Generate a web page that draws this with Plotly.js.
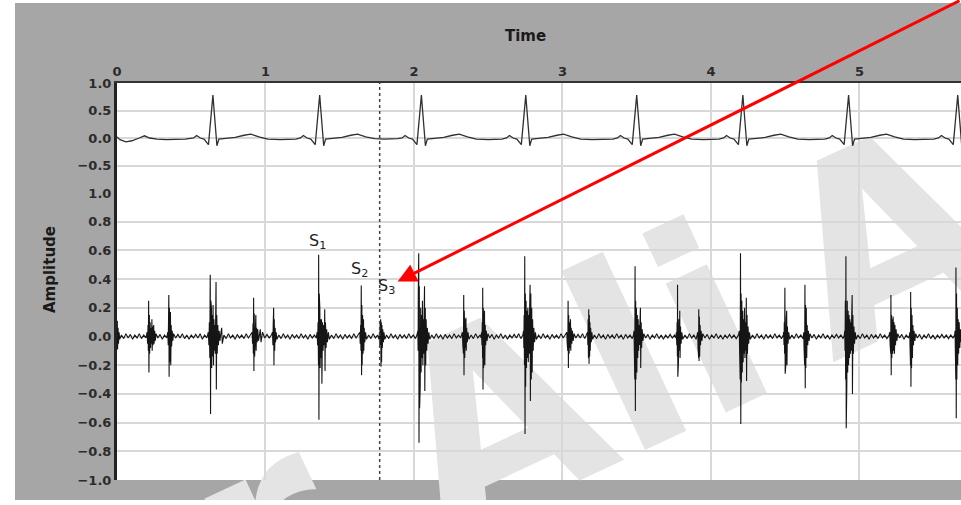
<!DOCTYPE html>
<html>
<head>
<meta charset="utf-8">
<script src="https://cdn.plot.ly/plotly-3.0.1.min.js"></script>
<style>html,body{margin:0;padding:0;background:#fff;}#chart{width:961px;height:505px;}</style>
</head>
<body>
<div id="chart"></div>
<script>
// ---------- DATA ----------
const xTicks = [0, 1, 2, 3, 4, 5];
const topYTicks = [1.0, 0.5, 0.0, -0.5];
const bottomYTicks = [1.0, 0.8, 0.6, 0.4, 0.2, 0.0, -0.2, -0.4, -0.6, -0.8, -1.0];

// ECG (top panel): [time s, amplitude]
const ecgSamples = [
[0.000,0.02],[0.02,-0.03],[0.06,-0.07],[0.10,-0.05],[0.15,0.0],[0.185,0.04],[0.22,0.0],[0.27,-0.02],[0.33,-0.03],[0.40,-0.03],[0.46,-0.02],
[0.516,0.0],[0.536,0.045],[0.561,0.0],[0.586,-0.02],[0.616,-0.12],[0.638,0.5],[0.646,0.78],[0.654,0.5],[0.666,-0.05],[0.673,-0.14],[0.686,-0.02],[0.726,-0.01],[0.796,0.01],[0.856,0.05],[0.901,0.07],[0.956,0.02],[1.016,-0.02],[1.10,-0.03],[1.18,-0.02],
[1.205,-0.02],[1.235,0.0],[1.255,0.045],[1.28,0.0],[1.305,-0.02],[1.335,-0.12],[1.357,0.5],[1.365,0.78],[1.373,0.5],[1.385,-0.05],[1.392,-0.14],[1.405,-0.02],[1.445,-0.01],[1.515,0.01],[1.575,0.05],[1.62,0.07],[1.675,0.02],[1.735,-0.01],[1.80,-0.02],[1.86,-0.02],
[1.89,-0.01],[1.92,0.0],[1.94,0.045],[1.965,0.0],[1.99,-0.02],[2.02,-0.12],[2.042,0.5],[2.05,0.78],[2.058,0.5],[2.07,-0.05],[2.077,-0.14],[2.09,-0.02],[2.13,-0.01],[2.20,0.01],[2.26,0.05],[2.305,0.07],[2.36,0.02],[2.42,-0.02],[2.50,-0.03],[2.57,-0.02],
[2.593,-0.02],[2.623,0.0],[2.643,0.045],[2.668,0.0],[2.693,-0.02],[2.723,-0.12],[2.745,0.5],[2.753,0.78],[2.761,0.5],[2.773,-0.05],[2.78,-0.14],[2.793,-0.02],[2.833,-0.01],[2.903,0.01],[2.963,0.05],[3.008,0.07],[3.063,0.02],[3.123,-0.02],[3.20,-0.03],[3.29,-0.02],
[3.34,-0.02],[3.37,0.0],[3.39,0.045],[3.415,0.0],[3.44,-0.02],[3.47,-0.12],[3.492,0.5],[3.50,0.78],[3.508,0.5],[3.52,-0.05],[3.527,-0.14],[3.54,-0.02],[3.58,-0.01],[3.65,0.01],[3.71,0.05],[3.755,0.07],[3.81,0.02],[3.87,-0.02],[3.95,-0.03],[4.01,-0.02],
[4.055,-0.02],[4.085,0.0],[4.105,0.045],[4.13,0.0],[4.155,-0.02],[4.185,-0.12],[4.207,0.5],[4.215,0.78],[4.223,0.5],[4.235,-0.05],[4.242,-0.14],[4.255,-0.02],[4.295,-0.01],[4.365,0.01],[4.425,0.05],[4.47,0.07],[4.525,0.02],[4.585,-0.02],[4.66,-0.03],[4.73,-0.02],
[4.767,-0.02],[4.797,0.0],[4.817,0.045],[4.842,0.0],[4.867,-0.02],[4.897,-0.12],[4.919,0.5],[4.927,0.78],[4.935,0.5],[4.947,-0.05],[4.954,-0.14],[4.967,-0.02],[5.007,-0.01],[5.077,0.01],[5.137,0.05],[5.182,0.07],[5.237,0.02],[5.297,-0.02],[5.37,-0.03],[5.45,-0.02],
[5.502,-0.02],[5.532,0.0],[5.552,0.045],[5.577,0.0],[5.602,-0.02],[5.632,-0.12],[5.654,0.5],[5.662,0.78],[5.67,0.5],[5.682,-0.05],[5.689,-0.14],[5.70,-0.02]
];

// Heart sound / PCG (bottom panel): [time s, amplitude]
const pcgSamples = [
[0.000,0.02],[0.002,0.11],[0.004,-0.09],[0.007,0.06],[0.010,-0.05],[0.014,0.03],[0.018,-0.02],
[0.03,0.01],[0.045,-0.015],[0.06,0.02],[0.075,-0.01],[0.09,0.015],[0.105,-0.02],[0.12,0.01],[0.135,-0.01],[0.15,0.02],[0.165,-0.015],[0.18,0.01],[0.195,-0.01],
[0.203,0.03],[0.206,-0.05],[0.209,0.08],[0.211,-0.1],[0.213,0.25],[0.215,-0.25],[0.218,0.15],[0.220,-0.12],[0.223,0.1],[0.226,-0.08],[0.229,0.06],[0.232,-0.05],[0.235,0.12],[0.237,-0.1],[0.240,0.07],[0.243,-0.06],[0.247,0.08],[0.250,-0.05],[0.254,0.04],[0.258,-0.03],[0.263,0.02],
[0.275,-0.01],[0.29,0.015],[0.305,-0.02],[0.32,0.01],[0.335,-0.01],
[0.342,0.03],[0.345,-0.06],[0.347,0.12],[0.349,0.29],[0.351,-0.28],[0.353,0.2],[0.355,-0.18],[0.358,0.1],[0.360,0.17],[0.362,-0.2],[0.365,0.08],[0.368,-0.07],[0.372,0.04],[0.376,-0.03],[0.381,0.02],
[0.395,-0.01],[0.41,0.015],[0.425,-0.01],[0.44,0.02],[0.455,-0.015],[0.47,0.01],[0.485,-0.02],[0.50,0.01],[0.515,-0.01],[0.53,0.015],[0.545,-0.01],[0.56,0.02],[0.575,-0.02],[0.59,0.01],[0.605,-0.01],
[0.615,0.03],[0.619,-0.06],[0.622,0.1],[0.625,-0.15],[0.627,0.3],[0.628,0.43],[0.630,-0.54],[0.632,0.25],[0.634,-0.3],[0.636,0.2],[0.638,-0.22],[0.641,0.15],[0.644,-0.14],[0.647,0.22],[0.650,-0.2],[0.653,0.12],[0.656,-0.1],[0.659,0.08],[0.662,-0.12],[0.665,0.2],[0.667,0.38],[0.669,-0.37],[0.672,0.15],[0.675,-0.12],[0.679,0.08],[0.683,-0.06],[0.688,0.04],[0.693,-0.03],[0.699,0.02],[0.705,0.06],[0.709,-0.05],
[0.72,0.01],[0.735,-0.015],[0.75,0.02],[0.765,-0.01],[0.78,0.01],[0.795,-0.02],[0.81,0.015],[0.825,-0.01],[0.84,0.01],[0.855,-0.015],[0.87,0.02],[0.885,-0.01],[0.90,0.01],
[0.910,0.03],[0.913,-0.05],[0.916,0.09],[0.918,-0.12],[0.920,0.27],[0.922,-0.24],[0.924,0.16],[0.927,-0.14],[0.930,0.08],[0.933,-0.06],[0.935,0.15],[0.937,-0.1],[0.940,0.06],[0.944,-0.04],[0.948,0.05],[0.953,-0.03],[0.958,0.02],[0.965,0.05],[0.97,-0.04],[0.98,0.03],
[0.995,-0.01],[1.01,0.015],[1.025,-0.01],[1.04,0.01],
[1.047,0.03],[1.050,-0.06],[1.052,0.08],[1.054,-0.1],[1.055,0.2],[1.057,-0.2],[1.059,0.12],[1.062,-0.1],[1.065,0.06],[1.068,-0.04],[1.072,0.03],[1.077,-0.02],
[1.09,0.01],[1.105,-0.015],[1.12,0.02],[1.135,-0.01],[1.15,0.01],[1.165,-0.02],[1.18,0.015],[1.195,-0.01],[1.21,0.01],[1.225,-0.015],[1.24,0.02],[1.255,-0.01],[1.27,0.01],[1.285,-0.02],[1.30,0.015],[1.315,-0.01],[1.33,0.01],[1.342,-0.01],
[1.348,0.03],[1.351,-0.06],[1.354,0.1],[1.356,0.5],[1.357,-0.2],[1.358,0.57],[1.360,-0.58],[1.362,0.3],[1.364,-0.35],[1.366,0.2],[1.368,-0.22],[1.371,0.12],[1.374,-0.15],[1.377,0.12],[1.380,-0.33],[1.384,0.1],[1.388,-0.1],[1.392,0.08],[1.396,-0.06],[1.399,0.19],[1.401,-0.24],[1.404,0.1],[1.408,-0.08],[1.412,0.05],[1.417,-0.04],[1.423,0.03],[1.43,-0.02],
[1.445,0.01],[1.46,-0.015],[1.475,0.02],[1.49,-0.01],[1.505,0.01],[1.52,-0.02],[1.535,0.015],[1.55,-0.01],[1.565,0.01],[1.58,-0.015],[1.595,0.02],[1.61,-0.01],[1.625,0.01],
[1.635,0.03],[1.638,-0.05],[1.641,0.08],[1.643,-0.1],[1.645,0.355],[1.647,-0.27],[1.649,0.22],[1.651,-0.2],[1.654,0.15],[1.657,-0.12],[1.660,0.12],[1.662,-0.1],[1.665,0.06],[1.669,-0.04],[1.674,0.03],[1.68,-0.02],
[1.695,0.01],[1.71,-0.015],[1.725,0.02],[1.74,-0.01],[1.755,0.01],[1.765,-0.02],
[1.768,0.03],[1.770,-0.06],[1.772,0.1],[1.774,-0.2],[1.776,0.12],[1.778,-0.21],[1.780,0.1],[1.782,-0.18],[1.784,0.08],[1.787,-0.08],[1.790,0.05],[1.794,-0.04],[1.798,0.03],[1.803,-0.02],
[1.815,0.01],[1.83,-0.015],[1.845,0.02],[1.86,-0.01],[1.875,0.01],[1.89,-0.02],[1.905,0.015],[1.92,-0.01],[1.935,0.01],[1.95,-0.015],[1.965,0.02],[1.98,-0.01],[1.995,0.01],[2.01,-0.015],[2.02,0.01],
[2.026,0.04],[2.028,-0.1],[2.029,0.3],[2.030,-0.45],[2.031,0.3],[2.032,0.58],[2.034,-0.74],[2.036,0.35],[2.038,-0.5],[2.040,0.3],[2.042,-0.35],[2.045,0.2],[2.048,-0.25],[2.051,0.15],[2.054,-0.15],[2.057,0.25],[2.060,-0.2],[2.063,0.12],[2.066,-0.12],[2.069,0.2],[2.071,0.35],[2.073,-0.38],[2.076,0.2],[2.079,-0.2],[2.082,0.12],[2.086,-0.1],[2.090,0.06],[2.095,-0.05],[2.100,0.03],[2.106,-0.02],
[2.12,0.01],[2.135,-0.015],[2.15,0.02],[2.165,-0.01],[2.18,0.01],[2.195,-0.02],[2.21,0.015],[2.225,-0.01],[2.24,0.01],[2.255,-0.015],[2.27,0.02],[2.285,-0.01],[2.30,0.01],[2.315,-0.01],
[2.326,0.03],[2.329,-0.06],[2.331,0.1],[2.333,-0.12],[2.335,0.29],[2.337,-0.27],[2.339,0.18],[2.342,-0.15],[2.345,0.12],[2.348,-0.08],[2.350,0.13],[2.352,-0.1],[2.355,0.06],[2.359,-0.04],[2.364,0.03],[2.37,-0.02],
[2.385,0.01],[2.40,-0.015],[2.415,0.02],[2.43,-0.01],[2.445,0.01],[2.453,-0.01],
[2.455,0.03],[2.458,-0.06],[2.460,0.1],[2.462,-0.15],[2.463,0.34],[2.465,-0.37],[2.467,0.2],[2.469,-0.22],[2.472,0.15],[2.475,0.18],[2.477,-0.2],[2.480,0.08],[2.483,-0.06],[2.487,0.04],[2.492,-0.03],[2.498,0.02],
[2.51,-0.01],[2.525,0.015],[2.54,-0.02],[2.555,0.01],[2.57,-0.01],[2.585,0.02],[2.60,-0.015],[2.615,0.01],[2.63,-0.02],[2.645,0.01],[2.66,-0.01],[2.675,0.015],[2.69,-0.01],[2.705,0.02],[2.72,-0.015],[2.733,0.01],
[2.738,0.04],[2.740,-0.08],[2.742,0.15],[2.744,-0.2],[2.746,0.56],[2.748,-0.68],[2.750,0.3],[2.752,-0.35],[2.755,0.25],[2.758,-0.22],[2.761,0.18],[2.764,-0.15],[2.767,0.2],[2.770,-0.18],[2.773,0.15],[2.776,-0.12],[2.779,0.2],[2.782,0.36],[2.784,-0.45],[2.787,0.3],[2.790,-0.3],[2.793,0.2],[2.796,-0.25],[2.799,0.12],[2.803,-0.1],[2.807,0.06],[2.812,-0.04],[2.818,0.03],[2.824,-0.02],
[2.84,0.01],[2.855,-0.015],[2.87,0.02],[2.885,-0.01],[2.90,0.01],[2.915,-0.02],[2.93,0.015],[2.945,-0.01],[2.96,0.01],[2.975,-0.015],[2.99,0.02],[3.005,-0.01],[3.02,0.01],
[3.029,0.03],[3.032,-0.05],[3.034,0.09],[3.036,-0.1],[3.038,0.25],[3.040,-0.22],[3.042,0.15],[3.045,-0.12],[3.048,0.1],[3.051,-0.08],[3.054,0.12],[3.056,-0.1],[3.059,0.06],[3.063,-0.05],[3.067,0.04],[3.072,-0.03],[3.078,0.02],
[3.09,-0.01],[3.105,0.015],[3.12,-0.01],[3.135,0.02],[3.15,-0.015],[3.162,0.01],
[3.169,0.03],[3.171,-0.06],[3.173,0.12],[3.175,-0.15],[3.177,0.19],[3.179,-0.19],[3.181,0.15],[3.183,-0.14],[3.185,0.1],[3.187,-0.1],[3.190,0.06],[3.194,-0.04],[3.198,0.03],[3.203,-0.02],
[3.215,0.01],[3.23,-0.015],[3.245,0.02],[3.26,-0.01],[3.275,0.01],[3.29,-0.02],[3.305,0.015],[3.32,-0.01],[3.335,0.01],[3.35,-0.015],[3.365,0.02],[3.38,-0.01],[3.395,0.01],[3.41,-0.02],[3.425,0.015],[3.44,-0.01],[3.455,0.01],[3.47,-0.015],[3.478,0.01],
[3.482,0.04],[3.484,-0.1],[3.486,0.2],[3.487,-0.3],[3.489,0.49],[3.491,-0.52],[3.493,0.25],[3.495,-0.3],[3.498,0.2],[3.501,-0.25],[3.504,0.15],[3.507,-0.15],[3.510,0.12],[3.513,-0.1],[3.516,0.08],[3.519,-0.06],[3.522,0.1],[3.525,0.2],[3.527,-0.22],[3.530,0.1],[3.533,-0.08],[3.537,0.05],[3.542,-0.03],[3.548,0.02],
[3.56,-0.01],[3.575,0.015],[3.59,-0.02],[3.605,0.01],[3.62,-0.01],[3.635,0.02],[3.65,-0.015],[3.665,0.01],[3.68,-0.02],[3.695,0.01],[3.71,-0.01],[3.725,0.015],[3.74,-0.01],[3.755,0.01],[3.764,-0.01],
[3.767,0.03],[3.770,-0.06],[3.772,0.1],[3.774,-0.14],[3.775,0.36],[3.777,-0.28],[3.779,0.2],[3.781,-0.18],[3.784,0.12],[3.787,-0.1],[3.790,0.18],[3.792,-0.15],[3.795,0.07],[3.799,-0.05],[3.804,0.03],[3.81,-0.02],
[3.825,0.01],[3.84,-0.015],[3.855,0.02],[3.87,-0.01],[3.885,0.01],[3.90,-0.02],[3.908,0.01],
[3.911,0.03],[3.913,-0.08],[3.915,0.12],[3.917,-0.15],[3.918,0.19],[3.920,-0.17],[3.922,0.14],[3.924,-0.14],[3.927,0.08],[3.930,-0.06],[3.934,0.04],[3.939,-0.03],[3.945,0.02],
[3.96,-0.01],[3.975,0.015],[3.99,-0.02],[4.005,0.01],[4.02,-0.01],[4.035,0.02],[4.05,-0.015],[4.065,0.01],[4.08,-0.02],[4.095,0.01],[4.11,-0.01],[4.125,0.015],[4.14,-0.01],[4.155,0.01],[4.17,-0.015],[4.185,0.01],
[4.191,0.04],[4.193,-0.1],[4.195,0.3],[4.197,-0.3],[4.199,0.58],[4.201,-0.61],[4.203,0.3],[4.205,-0.32],[4.208,0.25],[4.211,-0.25],[4.214,0.18],[4.217,-0.18],[4.220,0.12],[4.223,-0.12],[4.226,0.2],[4.229,-0.15],[4.232,0.1],[4.235,-0.1],[4.238,0.27],[4.240,-0.31],[4.243,0.15],[4.246,-0.12],[4.250,0.07],[4.254,-0.05],[4.259,0.03],[4.265,-0.02],
[4.28,0.01],[4.295,-0.015],[4.31,0.02],[4.325,-0.01],[4.34,0.01],[4.355,-0.02],[4.37,0.015],[4.385,-0.01],[4.40,0.01],[4.415,-0.015],[4.43,0.02],[4.445,-0.01],[4.46,0.01],[4.475,-0.015],[4.487,0.01],
[4.490,0.03],[4.492,-0.06],[4.494,0.1],[4.496,-0.12],[4.498,0.34],[4.500,-0.26],[4.502,0.2],[4.504,-0.2],[4.507,0.12],[4.510,0.18],[4.512,-0.2],[4.515,0.07],[4.519,-0.05],[4.524,0.03],[4.53,-0.02],
[4.545,0.01],[4.56,-0.015],[4.575,0.02],[4.59,-0.01],[4.605,0.01],[4.62,-0.015],
[4.625,0.03],[4.627,-0.08],[4.629,0.15],[4.631,-0.2],[4.633,0.36],[4.635,-0.36],[4.637,0.22],[4.639,-0.22],[4.642,0.2],[4.645,-0.15],[4.648,0.08],[4.652,-0.06],[4.656,0.04],[4.661,-0.03],[4.667,0.02],
[4.68,-0.01],[4.695,0.015],[4.71,-0.02],[4.725,0.01],[4.74,-0.01],[4.755,0.02],[4.77,-0.015],[4.785,0.01],[4.80,-0.02],[4.815,0.01],[4.83,-0.01],[4.845,0.015],[4.86,-0.01],[4.875,0.01],[4.89,-0.015],[4.898,0.01],
[4.901,0.04],[4.903,-0.1],[4.905,0.25],[4.907,-0.3],[4.909,0.56],[4.911,-0.64],[4.913,0.3],[4.915,-0.35],[4.918,0.25],[4.921,-0.25],[4.924,0.18],[4.927,-0.2],[4.930,0.15],[4.933,-0.15],[4.936,0.12],[4.939,-0.12],[4.942,0.1],[4.945,-0.1],[4.948,0.15],[4.951,0.29],[4.953,-0.4],[4.956,0.15],[4.959,-0.12],[4.963,0.07],[4.967,-0.05],[4.972,0.03],[4.978,-0.02],
[4.99,0.01],[5.005,-0.015],[5.02,0.02],[5.035,-0.01],[5.05,0.01],[5.065,-0.02],[5.08,0.015],[5.095,-0.01],[5.11,0.01],[5.125,-0.015],[5.14,0.02],[5.155,-0.01],[5.17,0.01],[5.185,-0.015],[5.20,0.01],
[5.204,0.03],[5.207,-0.06],[5.209,0.1],[5.211,-0.12],[5.212,0.29],[5.214,-0.27],[5.216,0.15],[5.218,-0.15],[5.221,0.12],[5.224,-0.12],[5.227,0.14],[5.230,-0.1],[5.233,0.1],[5.236,-0.12],[5.239,0.08],[5.243,-0.06],[5.247,0.05],[5.252,-0.03],[5.258,0.02],
[5.27,-0.01],[5.285,0.015],[5.30,-0.02],[5.315,0.01],[5.33,-0.01],[5.337,0.01],
[5.339,0.03],[5.341,-0.08],[5.343,0.18],[5.344,-0.2],[5.345,0.31],[5.347,-0.35],[5.349,0.2],[5.351,-0.22],[5.354,0.15],[5.357,-0.15],[5.360,0.08],[5.364,-0.06],[5.368,0.04],[5.373,-0.03],[5.379,0.02],
[5.39,-0.01],[5.405,0.015],[5.42,-0.02],[5.435,0.01],[5.45,-0.01],[5.465,0.02],[5.48,-0.015],[5.495,0.01],[5.51,-0.02],[5.525,0.01],[5.54,-0.01],[5.555,0.015],[5.57,-0.01],[5.585,0.01],[5.60,-0.015],[5.615,0.01],[5.63,-0.01],[5.641,0.01],
[5.644,0.04],[5.646,-0.1],[5.648,0.3],[5.649,-0.3],[5.650,0.48],[5.652,-0.57],[5.654,0.3],[5.656,-0.3],[5.659,0.2],[5.662,-0.2],[5.665,0.12],[5.668,-0.12],[5.672,0.1],[5.676,-0.08],[5.680,0.05],[5.685,-0.04]
];

// Markers / labels
const markerTime = 1.769;                       // dashed vertical cursor
const soundLabels = ['S<sub>1</sub>', 'S<sub>2</sub>', 'S<sub>3</sub>'];
const soundLabelTime = [1.351, 1.634, 1.816];
const soundLabelAmp = [0.665, 0.470, 0.350];
const arrowTip = [1.890, 0.383];
const watermarkWords = ['Dr Ali', 'A'];

// ---------- BUILD ----------
const fmt = v => v.toFixed(1).replace('-', '\u2212');
const xRange = [0, 5.684];
const splitY = 287 / 397;

const traces = [
  { x: ecgSamples.map(p => p[0]), y: ecgSamples.map(p => p[1]), xaxis: 'x', yaxis: 'y2',
    type: 'scatter', mode: 'lines', line: { color: '#303030', width: 1.3 }, hoverinfo: 'skip' },
  { x: pcgSamples.map(p => p[0]), y: pcgSamples.map(p => p[1]), xaxis: 'x', yaxis: 'y',
    type: 'scatter', mode: 'lines', line: { color: '#151515', width: 1.1 }, hoverinfo: 'skip' }
];

const tickFont = { family: 'DejaVu Sans', size: 13, color: '#2b2b2b', weight: 'bold' };
const gridC = '#d8d8d8';

const wmSvg = '<svg xmlns="http://www.w3.org/2000/svg" width="961" height="505" viewBox="0 0 961 505">' +
  '<text x="49" y="728" transform="rotate(-25 49 728)" font-family="DejaVu Sans" font-weight="bold" font-size="260" fill="#e4e4e4">' +
  watermarkWords[0] + '<tspan dx="50">' + watermarkWords[1] + '</tspan></text></svg>';

const annotations = soundLabels.map((t, i) => ({
  x: soundLabelTime[i], y: soundLabelAmp[i], xref: 'x', yref: 'y', text: t, showarrow: false,
  xanchor: 'center', yanchor: 'middle',
  font: { family: 'DejaVu Sans', size: 16, color: '#222' }
}));
annotations.push({
  x: arrowTip[0], y: arrowTip[1], xref: 'x', yref: 'y', text: '', showarrow: true,
  ax: 619, ay: -291, arrowhead: 2, arrowsize: 1.25, arrowwidth: 3, arrowcolor: '#ff0000'
});
annotations.push({ x: (525 - 117) / 844, y: (480 - 36) / 397, xref: 'paper', yref: 'paper', text: 'Time',
  xanchor: 'center', yanchor: 'middle',
  showarrow: false, font: { family: 'DejaVu Sans', size: 15, color: '#1a1a1a', weight: 'bold' } });
annotations.push({ x: (50 - 117) / 844, y: (480 - 270) / 397, xref: 'paper', yref: 'paper', text: 'Amplitude',
  xanchor: 'center', yanchor: 'middle',
  textangle: -90, showarrow: false, font: { family: 'DejaVu Sans', size: 15, color: '#1a1a1a', weight: 'bold' } });

const layout = {
  width: 961, height: 505,
  margin: { l: 117, r: 0, t: 83, b: 25, pad: 0 },
  paper_bgcolor: '#a6a6a6', plot_bgcolor: '#ffffff',
  showlegend: false, hovermode: false,
  font: { family: 'DejaVu Sans', color: '#2b2b2b' },
  xaxis: { domain: [0, 1], range: xRange, side: 'top', anchor: 'y2',
    tickmode: 'array', tickvals: xTicks, ticktext: xTicks.map(String),
    showgrid: true, gridcolor: gridC, gridwidth: 2, zeroline: false,
    showline: true, linecolor: '#333', linewidth: 2, ticks: '', tickfont: tickFont },
  yaxis: { domain: [0, splitY], range: [-1, 1], anchor: 'x',
    tickmode: 'array', tickvals: bottomYTicks, ticktext: bottomYTicks.map(fmt),
    showgrid: true, gridcolor: gridC, gridwidth: 2, zeroline: false,
    showline: true, linecolor: '#222', linewidth: 3, ticks: '', tickfont: tickFont },
  yaxis2: { domain: [splitY, 1], range: [-1, 1], anchor: 'x',
    tickmode: 'array', tickvals: topYTicks, ticktext: topYTicks.map(fmt),
    showgrid: true, gridcolor: gridC, gridwidth: 2, zeroline: false,
    showline: true, linecolor: '#222', linewidth: 3, ticks: '', tickfont: tickFont },
  images: [{ source: 'data:image/svg+xml;charset=utf-8,' + encodeURIComponent(wmSvg),
    xref: 'paper', yref: 'paper', x: -117 / 844, y: 1 + 83 / 397, sizex: 961 / 844, sizey: 505 / 397,
    xanchor: 'left', yanchor: 'top', sizing: 'stretch', layer: 'below' }],
  shapes: [
    { type: 'line', xref: 'x', yref: 'paper', x0: markerTime, x1: markerTime, y0: 0, y1: 1,
      line: { color: '#444', width: 1.5, dash: 'dot' } },
    { type: 'rect', xref: 'paper', yref: 'paper', x0: -0.2, x1: (15 - 117) / 844, y0: -0.2, y1: 1.3,
      fillcolor: '#ffffff', line: { width: 0 } },
    { type: 'rect', xref: 'paper', yref: 'paper', x0: -0.2, x1: 1.1, y0: -0.2, y1: (480 - 500) / 397,
      fillcolor: '#ffffff', line: { width: 0 } },
    { type: 'rect', xref: 'paper', yref: 'paper', x0: -0.2, x1: 1.1, y0: (480 - 3) / 397, y1: 1.3,
      fillcolor: '#ffffff', line: { width: 0 } }
  ],
  annotations: annotations
};

Plotly.newPlot('chart', traces, layout, { displayModeBar: false, staticPlot: true });
</script>
</body>
</html>
